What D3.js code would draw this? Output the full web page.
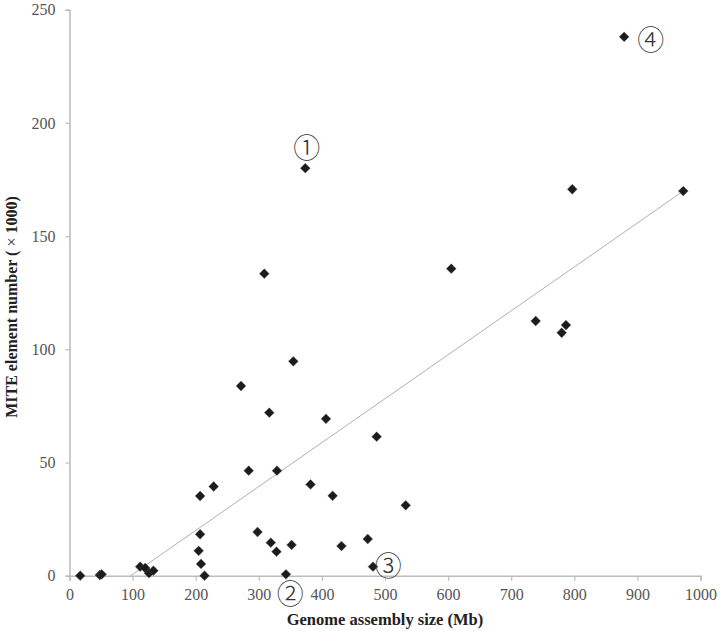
<!DOCTYPE html>
<html>
<head>
<meta charset="utf-8">
<script src="https://cdn.jsdelivr.net/npm/d3@7"></script>
<style>
  html, body { margin: 0; padding: 0; background: #fff; }
  svg { display: block; }
</style>
</head>
<body>
<svg id="chart" width="720" height="631"></svg>
<script>
// ---- data (Genome assembly size in Mb, MITE element number ×1000) ----
const genomeSize = [17, 48, 51, 112, 120, 126, 133, 204.7, 207, 207, 208.4, 214, 228.5,
  271.8, 284, 298, 308.7, 316.6, 319, 328, 328.8, 343, 352, 354.7, 373.7, 382, 406.5,
  417, 431, 472.6, 481, 486.8, 532.8, 605, 738.8, 780, 786.8, 796.8, 879, 972.7];
const miteNumber = [0, 0.3, 0.6, 4, 3.4, 1.1, 2.2, 11, 18.3, 35.2, 5.2, 0, 39.4,
  83.8, 46.4, 19.3, 133.4, 72, 14.6, 10.6, 46.4, 0.6, 13.6, 94.7, 180, 40.3, 69.3,
  35.3, 13.1, 16.2, 4, 61.4, 31.1, 135.6, 112.5, 107.3, 110.7, 170.7, 238, 169.9];

// linear trendline end points
const trendX = [97, 972.7];
const trendY = [0, 169.9];

// circled annotations
const noteText = ["①", "②", "③", "④"];
const noteX = [376, 350, 505, 921];
const noteY = [189.5, -7.6, 5, 237.5];

const xTicks = [0, 100, 200, 300, 400, 500, 600, 700, 800, 900, 1000];
const yTicks = [0, 50, 100, 150, 200, 250];

// ---- layout ----
const svg = d3.select("#chart");
const x = d3.scaleLinear().domain([0, 1000]).range([69.5, 700.5]);
const y = d3.scaleLinear().domain([0, 250]).range([575.7, 9.7]);
const serif = "'Liberation Serif', 'Times New Roman', serif";
const axisColor = "#bdbdbd";

// x axis
const gx = svg.append("g").attr("transform", `translate(0,${y(0)})`)
  .call(d3.axisBottom(x).tickValues(xTicks).tickSize(5).tickPadding(8).tickFormat(d3.format("d")));
gx.select(".domain").attr("stroke", axisColor).attr("stroke-width", 1.6);
gx.selectAll(".tick line").attr("stroke", axisColor).attr("stroke-width", 1.2);
gx.selectAll(".tick text").attr("fill", "#555").attr("font-family", serif).attr("font-size", 16);

// y axis
const gy = svg.append("g").attr("transform", `translate(${x(0)},0)`)
  .call(d3.axisLeft(y).tickValues(yTicks).tickSize(4).tickPadding(10).tickFormat(d3.format("d")));
gy.select(".domain").attr("stroke", axisColor).attr("stroke-width", 1.6);
gy.selectAll(".tick line").attr("stroke", axisColor).attr("stroke-width", 1.2);
gy.selectAll(".tick text").attr("fill", "#555").attr("font-family", serif).attr("font-size", 16);

// trendline
svg.append("line")
  .attr("x1", x(trendX[0])).attr("y1", y(trendY[0]))
  .attr("x2", x(trendX[1])).attr("y2", y(trendY[1]))
  .attr("stroke", "#b0b0b0").attr("stroke-width", 1);

// points
const pts = genomeSize.map((g, i) => ({ g, m: miteNumber[i] }));
const diamond = d3.symbol().type(d3.symbolSquare).size(48);
svg.append("g").selectAll("path").data(pts).join("path")
  .attr("d", diamond)
  .attr("transform", d => `translate(${x(d.g)},${y(d.m)}) rotate(45)`)
  .attr("fill", "#1c1c1c")
  .attr("stroke", "#555").attr("stroke-width", 0.8).attr("stroke-opacity", 0.5);

// annotations
svg.append("g").selectAll("text").data(noteText).join("text")
  .attr("x", (d, i) => x(noteX[i]))
  .attr("y", (d, i) => y(noteY[i]))
  .attr("text-anchor", "middle")
  .attr("dominant-baseline", "central")
  .attr("font-family", "'Noto Sans CJK JP', 'DejaVu Sans', sans-serif")
  .attr("font-size", 27)
  .attr("font-weight", 300)
  .attr("fill", "#333")
  .text(d => d);

// axis titles
svg.append("text")
  .attr("x", 385).attr("y", 625)
  .attr("text-anchor", "middle")
  .attr("font-family", serif).attr("font-weight", "bold").attr("font-size", 16.5)
  .attr("fill", "#222")
  .text("Genome assembly size (Mb)");

const yt = svg.append("text")
  .attr("transform", "translate(17,307) rotate(-90)")
  .attr("text-anchor", "middle")
  .attr("font-family", serif).attr("font-weight", "bold").attr("font-size", 16)
  .attr("fill", "#222");
yt.append("tspan").text("MITE element number (");
yt.append("tspan").attr("font-weight", "normal").text(" × ");
yt.append("tspan").text("1000)");
</script>
</body>
</html>
